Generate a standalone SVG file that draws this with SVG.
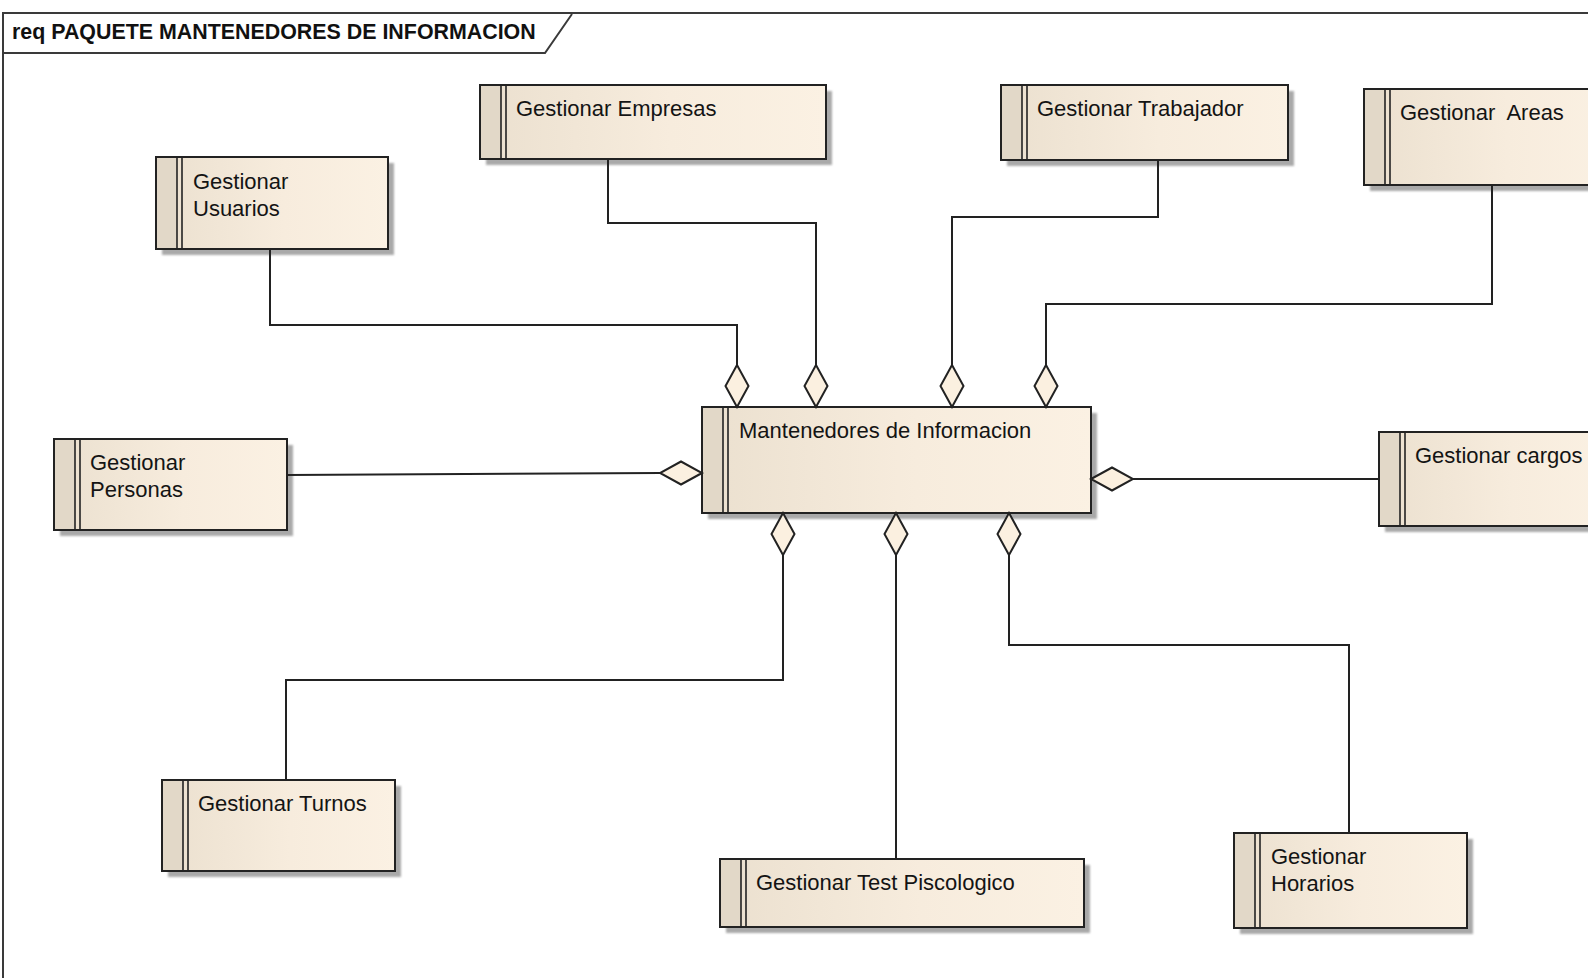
<svg xmlns="http://www.w3.org/2000/svg" width="1588" height="978" viewBox="0 0 1588 978">
  <style>
    .frame { fill: none; stroke: #3a3a3a; stroke-width: 2; }
    .title { font-family: "Liberation Sans", Arial, sans-serif; font-weight: bold; font-size: 21.4px; fill: #111; }
    .box { fill: url(#bodyFill); stroke: #222; stroke-width: 2; }
    .band { fill: #e2d8c8; }
    .bandline { stroke: #222; stroke-width: 1.6; }
    .shadow { fill: #a9a9a9; filter: url(#soft); }
    .label { font-family: "Liberation Sans", Arial, sans-serif; font-size: 22px; fill: #141414; white-space: pre; }
    .conn { fill: none; stroke: #222; stroke-width: 2; marker-start: url(#aggr); }
  </style>
  <defs>
    <linearGradient id="bodyFill" x1="0" y1="0" x2="1" y2="0">
      <stop offset="0" stop-color="#ebe0cf"/>
      <stop offset="0.55" stop-color="#f7ecdd"/>
      <stop offset="1" stop-color="#fbf1e3"/>
    </linearGradient>
    <filter id="soft" x="-5%" y="-5%" width="110%" height="110%">
      <feGaussianBlur stdDeviation="1.2"/>
    </filter>
    <!-- hollow diamond for aggregation ends -->
    <marker id="aggr" markerUnits="userSpaceOnUse" markerWidth="46" markerHeight="28" viewBox="-2 -14 46 28" refX="0" refY="0" orient="auto">
      <path d="M0,0 L21,-11.5 L42,0 L21,11.5 Z" fill="#fbf0e0" stroke="#222" stroke-width="2" stroke-linejoin="miter"/>
    </marker>
  </defs>

  <rect width="1588" height="978" fill="#ffffff"/>

  <!-- package frame -->
  <g id="frame">
    <path class="frame" d="M3,990 V13 H1600"/>
    <path class="frame" d="M3,53 H545 L572,14"/>
    <text class="title" x="12" y="39">req PAQUETE MANTENEDORES DE INFORMACION</text>
  </g>

  <g id="usuarios">
    <rect class="shadow" x="162" y="163" width="232" height="92"/>
    <rect class="box" x="156" y="157" width="232" height="92"/>
    <rect class="band" x="157" y="158" width="20" height="90"/>
    <line class="bandline" x1="177" y1="157" x2="177" y2="249"/>
    <line class="bandline" x1="182" y1="157" x2="182" y2="249"/>
    <text class="label" x="193" y="189">Gestionar</text>
    <text class="label" x="193" y="216">Usuarios</text>
  </g>

  <g id="empresas">
    <rect class="shadow" x="486" y="91" width="346" height="74"/>
    <rect class="box" x="480" y="85" width="346" height="74"/>
    <rect class="band" x="481" y="86" width="20" height="72"/>
    <line class="bandline" x1="501" y1="85" x2="501" y2="159"/>
    <line class="bandline" x1="506" y1="85" x2="506" y2="159"/>
    <text class="label" x="516" y="116">Gestionar Empresas</text>
  </g>

  <g id="trabajador">
    <rect class="shadow" x="1007" y="91" width="287" height="75"/>
    <rect class="box" x="1001" y="85" width="287" height="75"/>
    <rect class="band" x="1002" y="86" width="20" height="73"/>
    <line class="bandline" x1="1022" y1="85" x2="1022" y2="160"/>
    <line class="bandline" x1="1027" y1="85" x2="1027" y2="160"/>
    <text class="label" x="1037" y="116">Gestionar Trabajador</text>
  </g>

  <g id="areas">
    <rect class="shadow" x="1370" y="95" width="260" height="96"/>
    <rect class="box" x="1364" y="89" width="260" height="96"/>
    <rect class="band" x="1365" y="90" width="20" height="94"/>
    <line class="bandline" x1="1385" y1="89" x2="1385" y2="185"/>
    <line class="bandline" x1="1390" y1="89" x2="1390" y2="185"/>
    <text class="label" x="1400" y="120">Gestionar  Areas</text>
  </g>

  <g id="personas">
    <rect class="shadow" x="60" y="445" width="233" height="91"/>
    <rect class="box" x="54" y="439" width="233" height="91"/>
    <rect class="band" x="55" y="440" width="20" height="89"/>
    <line class="bandline" x1="75" y1="439" x2="75" y2="530"/>
    <line class="bandline" x1="80" y1="439" x2="80" y2="530"/>
    <text class="label" x="90" y="470">Gestionar</text>
    <text class="label" x="90" y="497">Personas</text>
  </g>

  <g id="mantenedores">
    <rect class="shadow" x="708" y="413" width="389" height="106"/>
    <rect class="box" x="702" y="407" width="389" height="106"/>
    <rect class="band" x="703" y="408" width="20" height="104"/>
    <line class="bandline" x1="723" y1="407" x2="723" y2="513"/>
    <line class="bandline" x1="728" y1="407" x2="728" y2="513"/>
    <text class="label" x="739" y="438">Mantenedores de Informacion</text>
  </g>

  <g id="cargos">
    <rect class="shadow" x="1385" y="438" width="240" height="94"/>
    <rect class="box" x="1379" y="432" width="240" height="94"/>
    <rect class="band" x="1380" y="433" width="20" height="92"/>
    <line class="bandline" x1="1400" y1="432" x2="1400" y2="526"/>
    <line class="bandline" x1="1405" y1="432" x2="1405" y2="526"/>
    <text class="label" x="1415" y="463">Gestionar cargos</text>
  </g>

  <g id="turnos">
    <rect class="shadow" x="168" y="786" width="233" height="91"/>
    <rect class="box" x="162" y="780" width="233" height="91"/>
    <rect class="band" x="163" y="781" width="20" height="89"/>
    <line class="bandline" x1="183" y1="780" x2="183" y2="871"/>
    <line class="bandline" x1="188" y1="780" x2="188" y2="871"/>
    <text class="label" x="198" y="811">Gestionar Turnos</text>
  </g>

  <g id="test">
    <rect class="shadow" x="726" y="865" width="364" height="68"/>
    <rect class="box" x="720" y="859" width="364" height="68"/>
    <rect class="band" x="721" y="860" width="20" height="66"/>
    <line class="bandline" x1="741" y1="859" x2="741" y2="927"/>
    <line class="bandline" x1="746" y1="859" x2="746" y2="927"/>
    <text class="label" x="756" y="890">Gestionar Test Piscologico</text>
  </g>

  <g id="horarios">
    <rect class="shadow" x="1240" y="839" width="233" height="95"/>
    <rect class="box" x="1234" y="833" width="233" height="95"/>
    <rect class="band" x="1235" y="834" width="20" height="93"/>
    <line class="bandline" x1="1255" y1="833" x2="1255" y2="928"/>
    <line class="bandline" x1="1260" y1="833" x2="1260" y2="928"/>
    <text class="label" x="1271" y="864">Gestionar</text>
    <text class="label" x="1271" y="891">Horarios</text>
  </g>

  <!-- aggregation connectors, drawn over the node shadows -->
  <g id="connectors">
    <path class="conn" d="M737,407 V325 H270 V249"/>
    <path class="conn" d="M816,407 V223 H608 V159"/>
    <path class="conn" d="M952,407 V217 H1158 V160"/>
    <path class="conn" d="M1046,407 V304 H1492 V185"/>
    <path class="conn" d="M702,473 L661,473 L287,475"/>
    <path class="conn" d="M1091,479 H1379"/>
    <path class="conn" d="M783,513 V680 H286 V780"/>
    <path class="conn" d="M896,513 V859"/>
    <path class="conn" d="M1009,513 V645 H1349 V833"/>
  </g>
</svg>
